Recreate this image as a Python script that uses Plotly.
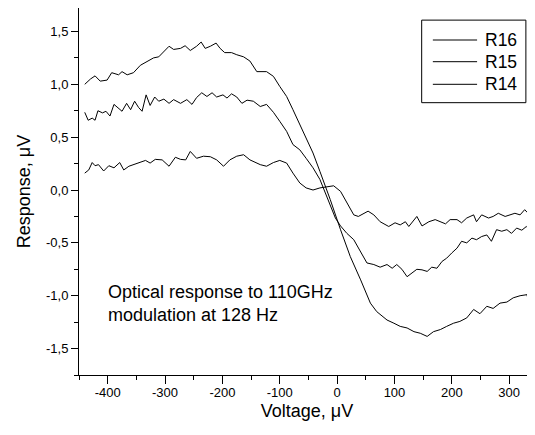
import plotly.graph_objects as go

# ---- data ----
V_R16 = [-440, -430, -422, -413, -401, -393, -381, -375, -366, -355, -343, -331, -320, -311, -302, -293,
         -285, -273, -265, -256, -245, -237, -230, -221, -211, -204, -196, -184, -175, -163, -152, -140,
         -123, -111, -100, -88, -77, -65, -54, -42, -30, -19, -12, 6, 23, 41, 58, 69, 87, 99, 110, 122,
         134, 145, 157, 168, 180, 191, 203, 214, 226, 238, 249, 261, 272, 284, 296, 307, 319, 331, 334]
R16 = [1.00, 1.05, 1.08, 1.03, 1.04, 1.11, 1.09, 1.12, 1.09, 1.11, 1.18, 1.22, 1.25, 1.26, 1.31, 1.36,
       1.33, 1.34, 1.365, 1.32, 1.36, 1.40, 1.34, 1.36, 1.39, 1.34, 1.30, 1.30, 1.28, 1.26, 1.22, 1.12,
       1.12, 1.075, 0.98, 0.885, 0.76, 0.62, 0.476, 0.35, 0.176, 0.0, -0.09, -0.376, -0.63, -0.85, -1.07,
       -1.15, -1.23, -1.26, -1.29, -1.305, -1.34, -1.355, -1.385, -1.34, -1.32, -1.29, -1.26, -1.243,
       -1.21, -1.13, -1.17, -1.10, -1.12, -1.07, -1.06, -1.02, -1.00, -0.99, -1.06]

V_R15 = [-440, -434, -427, -422, -417, -409, -403, -396, -389, -382, -375, -367, -360, -353, -346, -340,
         -333, -326, -318, -311, -302, -293, -285, -273, -262, -253, -245, -236, -227, -218, -210, -199,
         -192, -184, -175, -166, -157, -146, -134, -123, -111, -100, -88, -77, -65, -54, -42, -30, -22,
         -12, -3, 6, 17, 29, 41, 52, 64, 75, 87, 96, 104, 113, 122, 131, 139, 148, 157, 165, 174, 183,
         191, 200, 209, 217, 226, 235, 243, 252, 261, 269, 278, 287, 296, 304, 313, 322, 330, 335]
R15 = [0.735, 0.66, 0.68, 0.66, 0.75, 0.73, 0.745, 0.70, 0.81, 0.775, 0.745, 0.82, 0.76, 0.84, 0.78, 0.745,
       0.90, 0.80, 0.88, 0.84, 0.86, 0.82, 0.855, 0.82, 0.855, 0.81, 0.875, 0.92, 0.885, 0.92, 0.88, 0.90,
       0.87, 0.91, 0.88, 0.82, 0.85, 0.84, 0.79, 0.81, 0.735, 0.65, 0.555, 0.43, 0.38, 0.30, 0.21, 0.10,
       -0.01, -0.155, -0.265, -0.34, -0.41, -0.47, -0.58, -0.69, -0.705, -0.73, -0.705, -0.74, -0.705,
       -0.75, -0.82, -0.78, -0.75, -0.755, -0.77, -0.73, -0.74, -0.675, -0.645, -0.595, -0.55, -0.485,
       -0.50, -0.455, -0.47, -0.44, -0.425, -0.485, -0.375, -0.39, -0.375, -0.41, -0.36, -0.38, -0.345,
       -0.375]

V_R14 = [-440, -433, -427, -422, -416, -407, -398, -389, -379, -372, -363, -355, -343, -334, -326, -317,
         -305, -293, -282, -273, -264, -256, -245, -233, -221, -210, -198, -187, -175, -163, -152, -134,
         -123, -111, -100, -88, -77, -65, -54, -42, -30, -19, -6, 6, 17, 29, 37, 48, 54, 64, 75, 90, 101,
         110, 119, 125, 134, 139, 148, 160, 171, 180, 189, 197, 209, 217, 226, 238, 243, 252, 264, 272,
         281, 293, 301, 310, 319, 327, 333]
R14 = [0.16, 0.19, 0.26, 0.23, 0.24, 0.18, 0.23, 0.21, 0.26, 0.19, 0.225, 0.24, 0.26, 0.28, 0.255, 0.29,
       0.285, 0.225, 0.31, 0.29, 0.285, 0.365, 0.30, 0.32, 0.315, 0.285, 0.225, 0.285, 0.32, 0.334, 0.285,
       0.24, 0.225, 0.26, 0.28, 0.255, 0.16, 0.066, 0.02, 0.0, 0.02, 0.03, 0.04, -0.013, -0.12, -0.235,
       -0.25, -0.22, -0.20, -0.235, -0.30, -0.345, -0.31, -0.33, -0.30, -0.345, -0.285, -0.25, -0.34,
       -0.30, -0.28, -0.30, -0.32, -0.28, -0.28, -0.31, -0.265, -0.235, -0.30, -0.235, -0.265, -0.25,
       -0.22, -0.25, -0.235, -0.22, -0.235, -0.186, -0.22]

SERIES_NAMES = ["R16", "R15", "R14"]

X_TICKVALS = [-400, -300, -200, -100, 0, 100, 200, 300]
X_TICKTEXT = ["-400", "-300", "-200", "-100", "0", "100", "200", "300"]
Y_TICKVALS = [-1.5, -1.0, -0.5, 0.0, 0.5, 1.0, 1.5]
Y_TICKTEXT = ["-1,5", "-1,0", "-0,5", "0,0", "0,5", "1,0", "1,5"]

ANNOTATION = "Optical response to 110GHz<br>modulation at 128 Hz"

FONT = "Liberation Sans, Arial, sans-serif"

fig = go.Figure()
for name, xs, ys in [("R16", V_R16, R16), ("R15", V_R15, R15), ("R14", V_R14, R14)]:
    fig.add_trace(go.Scatter(x=xs, y=ys, mode="lines", name=name,
                             line=dict(color="black", width=1)))

# the page body adds an 8px offset, margins compensate for it
fig.update_layout(
    width=535, height=435,
    margin=dict(l=71, r=8, t=0, b=68),
    paper_bgcolor="white", plot_bgcolor="white",
    showlegend=False,
    font=dict(family=FONT, color="black", size=13),
)

fig.update_xaxes(
    automargin=False,
    range=[-450, 345], tickvals=X_TICKVALS, ticktext=X_TICKTEXT,
    ticks="outside", ticklen=8, tickwidth=1, tickcolor="black",
    showline=True, linecolor="black", linewidth=1, mirror="allticks",
    showgrid=False, zeroline=False,
    minor=dict(dtick=50, tick0=0, ticks="outside", ticklen=4, tickcolor="black", showgrid=False),
    tickfont=dict(size=13, family=FONT), ticklabelstandoff=-3,
    title=dict(text="Voltage, μV", font=dict(size=18, family=FONT), standoff=5),
)
fig.update_yaxes(
    automargin=False,
    range=[-1.75, 1.722], tickvals=Y_TICKVALS, ticktext=Y_TICKTEXT,
    ticks="outside", ticklen=7, tickwidth=1, tickcolor="black",
    showline=True, linecolor="black", linewidth=1,
    showgrid=False, zeroline=False,
    minor=dict(dtick=0.25, tick0=0, ticks="outside", ticklen=4, tickcolor="black", showgrid=False),
    tickfont=dict(size=13, family=FONT),
    title=dict(text="Response, μV" + "\u00a0" * 5, font=dict(size=18, family=FONT), standoff=10),
)

# annotation text
fig.add_annotation(x=-400, y=-1.07, xref="x", yref="y", text=ANNOTATION, xshift=-2,
                   showarrow=False, xanchor="left", yanchor="middle", align="left",
                   font=dict(size=18, family=FONT, color="black"))

# legend drawn as a framed box
fig.add_shape(type="rect", xref="paper", yref="paper", x0=0.7515, x1=0.980, y0=0.742, y1=0.967,
              line=dict(color="black", width=1), fillcolor="white")
legend_y = [0.9128, 0.8537, 0.7921]
for name, ly in zip(SERIES_NAMES, legend_y):
    fig.add_shape(type="line", xref="paper", yref="paper", x0=0.776, x1=0.873, y0=ly, y1=ly,
                  line=dict(color="black", width=1))
    fig.add_annotation(x=0.886, y=ly, xref="paper", yref="paper", text=name, showarrow=False,
                       xanchor="left", yanchor="middle", font=dict(size=17.5, family=FONT, color="black"))

fig.write_html("out.html")
